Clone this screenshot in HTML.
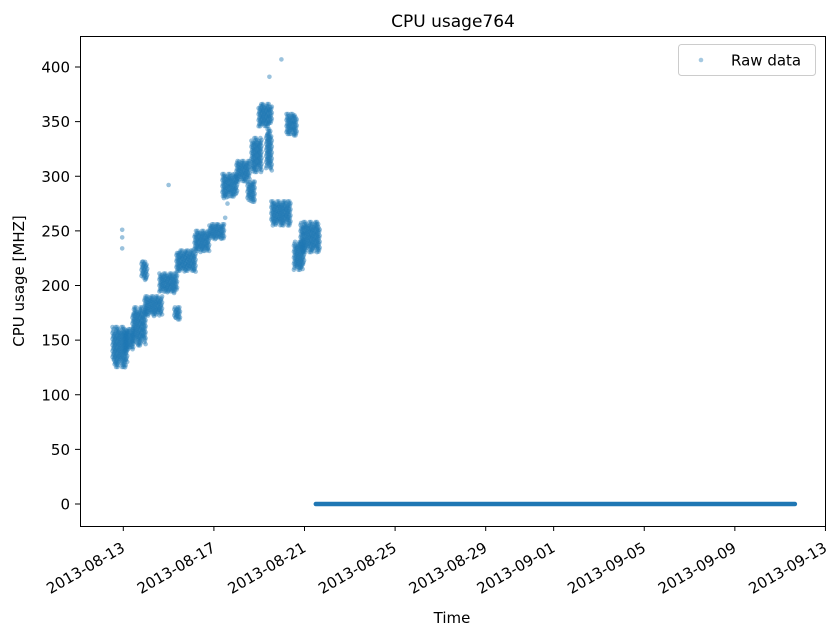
<!DOCTYPE html>
<html><head><meta charset="utf-8"><style>
body{margin:0;background:#fff;}
svg{display:block;font-family:"DejaVu Sans","Liberation Sans",sans-serif;}
</style></head><body>
<svg id="c" width="835" height="638" viewBox="0 0 835 638">
<rect width="835" height="638" fill="#fff"/>
<text x="453" y="27" font-size="17" text-anchor="middle">CPU usage764</text>
<g id="marks"></g>
<g id="axes"></g>
<rect x="80.5" y="36.5" width="745" height="490" fill="none" stroke="#000" stroke-width="1"/>
<g>
<rect x="678.5" y="44.5" width="137" height="31" rx="3" fill="#fff" fill-opacity="0.8" stroke="#ccc"/>
<circle cx="701" cy="60" r="2.3" fill="#1f77b4" fill-opacity="0.4"/>
<text x="731" y="65.5" font-size="15">Raw data</text>
</g>
<text x="452" y="623" font-size="15" text-anchor="middle">Time</text>
<text transform="translate(24,281) rotate(-90)" font-size="15" text-anchor="middle">CPU usage [MHZ]</text>
</svg>
<script>
// cluster data: day offset from 2013-08-13, value ranges (MHz)
const clusterStart=[-0.45,0.08,0.43,0.83,0.96,1.62,2.28,2.37,3.17,3.83,4.40,5.02,5.51,5.68,6.00,6.33,6.56,7.23,7.56,7.85];
const clusterEnd=[0.16,0.43,0.96,1.09,1.71,2.37,2.50,3.17,3.83,4.49,5.02,5.59,5.81,6.12,6.53,6.59,7.36,7.67,8.00,8.68];
const clusterLo=[125,140,145,205,172,193,168,212,230,242,280,295,276,303,345,305,255,337,213,230];
const clusterHi=[162,160,180,222,190,211,180,232,250,256,302,314,295,335,366,343,277,357,240,258];
const outlierDay=[6.98,6.45,-0.05,-0.05,-0.05,2.0,4.5,4.6];
const outlierVal=[407,391,251,244,234,292,262,275];
const zeroStart=8.5, zeroEnd=29.65, zeroVal=0;
const yTicks=[0,50,100,150,200,250,300,350,400];
const xTickDays=[0,4,8,12,16,19,23,27,31];
const xTickLabels=["2013-08-13","2013-08-17","2013-08-21","2013-08-25","2013-08-29","2013-09-01","2013-09-05","2013-09-09","2013-09-13"];

const NS="http://www.w3.org/2000/svg";
const X=d=>123.3+d*22.65;
const Y=v=>504-v*1.0925;
const marks=document.getElementById('marks'), axes=document.getElementById('axes');
function dot(x,y){const c=document.createElementNS(NS,'circle');
c.setAttribute('cx',x.toFixed(1));c.setAttribute('cy',y.toFixed(1));c.setAttribute('r','2.3');
c.setAttribute('fill','#1f77b4');c.setAttribute('fill-opacity','0.45');


marks.appendChild(c);}
for(let i=0;i<clusterStart.length;i++){
 const x0=X(clusterStart[i]),x1=X(clusterEnd[i]),yTop=Y(clusterHi[i]),yBot=Y(clusterLo[i]);
 const h=yBot-yTop;
 let k=0;
 for(let x=x0;x<=x1;x+=1.5,k++){
  const w1=Math.sin(k*1.7+i)*0.18*h, w2=Math.cos(k*1.3+i*2)*0.18*h;
  const a=yTop+Math.max(0,w1), b=yBot-Math.max(0,w2);
  for(let y=a;y<=b;y+=2.0){dot(x+((Math.round(y)%3)-1)*0.6,y);}
 }
}
for(let i=0;i<outlierDay.length;i++)dot(X(outlierDay[i]),Y(outlierVal[i]));
const zl=document.createElementNS(NS,'line');
zl.setAttribute('x1',X(zeroStart));zl.setAttribute('x2',X(zeroEnd));
zl.setAttribute('y1',Y(zeroVal));zl.setAttribute('y2',Y(zeroVal));
zl.setAttribute('stroke','#1f77b4');zl.setAttribute('stroke-width','4.5');zl.setAttribute('stroke-linecap','round');


marks.appendChild(zl);
yTicks.forEach(v=>{const y=Y(v);
 const l=document.createElementNS(NS,'line');l.setAttribute('x1',75);l.setAttribute('x2',80);l.setAttribute('y1',y);l.setAttribute('y2',y);l.setAttribute('stroke','#000');
 
 
 axes.appendChild(l);
 const t=document.createElementNS(NS,'text');t.setAttribute('x',70);t.setAttribute('y',y+5.5);t.setAttribute('font-size','15');t.setAttribute('text-anchor','end');t.textContent=v;
 
 
 axes.appendChild(t);});
xTickDays.forEach((d,i)=>{const x=X(d);
 const l=document.createElementNS(NS,'line');l.setAttribute('x1',x);l.setAttribute('x2',x);l.setAttribute('y1',526);l.setAttribute('y2',531);l.setAttribute('stroke','#000');
 
 
 axes.appendChild(l);
 const t=document.createElementNS(NS,'text');t.setAttribute('transform',`translate(${x-3},541) rotate(-30)`);t.setAttribute('font-size','15');t.setAttribute('text-anchor','end');t.setAttribute('dominant-baseline','hanging');t.textContent=xTickLabels[i];
 
 
 axes.appendChild(t);});
</script>
</body></html>
